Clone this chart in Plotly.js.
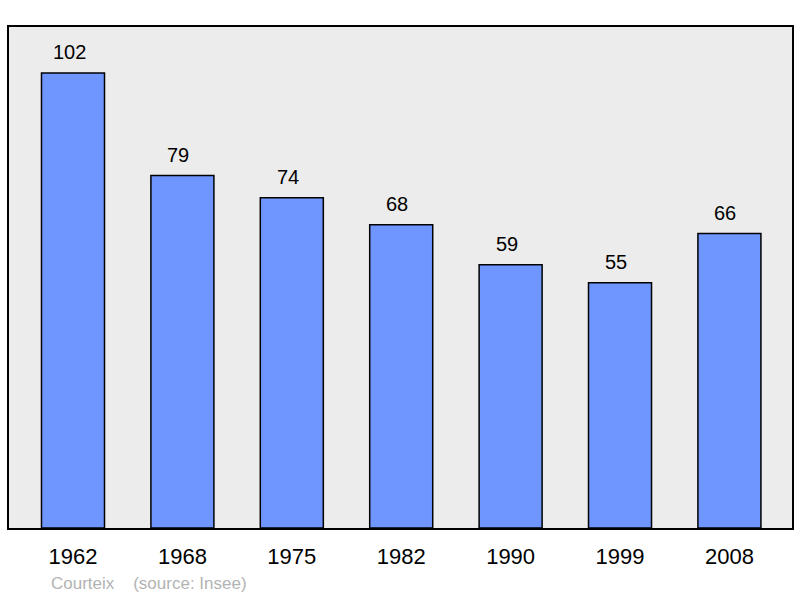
<!DOCTYPE html>
<html>
<head>
<meta charset="utf-8">
<script src="https://cdn.plot.ly/plotly-3.0.1.min.js"></script>
<style>
  html, body { margin: 0; padding: 0; background: #fff; }
  #chart { width: 800px; height: 598px; }
</style>
</head>
<body>
<div id="chart"></div>
<script>
'use strict'
/* global Plotly */

// population by census year
const years = ['1962', '1968', '1975', '1982', '1990', '1999', '2008']
const population = [102, 79, 74, 68, 59, 55, 66]
const commune = 'Courteix'
const source = '(source: Insee)'

const FONT = 'Liberation Sans, Arial, sans-serif'

const bars = {
  type: 'bar',
  x: years,
  y: population,
  width: 0.576,
  marker: {color: '#6f96ff', line: {color: '#000', width: 1.5}},
  hoverinfo: 'none'
}

// value labels sit just above each bar, a touch left of centre
// (category index, since year-like names get read as numbers)
const labels = years.map((yr, i) => ({
  x: i,
  y: population[i],
  text: String(population[i]),
  showarrow: false,
  yanchor: 'bottom',
  yshift: 8,
  xshift: -4,
  font: {family: FONT, size: 20, color: '#000'}
}))

labels.push({
  xref: 'paper',
  yref: 'paper',
  x: 0.051,
  y: -0.088,
  xanchor: 'left',
  yanchor: 'top',
  showarrow: false,
  text: commune + '    ' + source,
  font: {family: FONT, size: 17, color: '#b3b3b3'}
})

const layout = {
  width: 800,
  height: 598,
  margin: {l: 9, r: 8, t: 27, b: 70},
  paper_bgcolor: '#fff',
  plot_bgcolor: '#ececec',
  showlegend: false,
  xaxis: {
    type: 'category',
    range: [-0.585, 6.572],
    showgrid: false,
    zeroline: false,
    showline: true,
    mirror: true,
    linecolor: '#000',
    linewidth: 2,
    ticks: 'outside',
    ticklen: 8,
    tickcolor: 'rgba(0,0,0,0)',
    tickfont: {family: FONT, size: 22, color: '#000'}
  },
  yaxis: {
    range: [0, 112.3],
    showgrid: false,
    zeroline: false,
    showline: true,
    mirror: true,
    linecolor: '#000',
    linewidth: 2,
    showticklabels: false,
    ticks: ''
  },
  annotations: labels
}

Plotly.newPlot('chart', [bars], layout, {displayModeBar: false, staticPlot: true})
</script>
</body>
</html>
